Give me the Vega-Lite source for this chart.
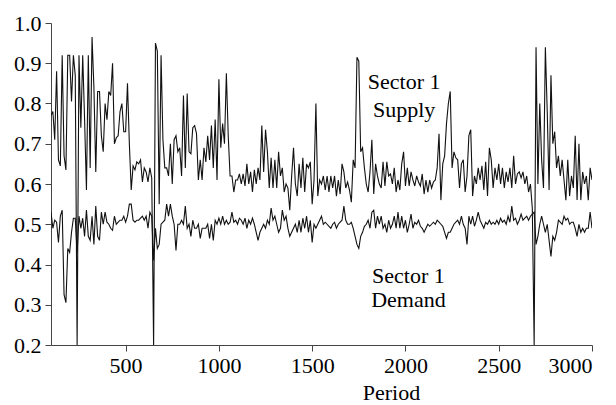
{
  "$schema": "https://vega.github.io/schema/vega-lite/v6.json",
  "width": 541,
  "height": 322,
  "autosize": {"type": "none"},
  "padding": {"left": 51, "top": 23, "right": 24, "bottom": 60},
  "background": "white",
  "config": {
    "view": {"stroke": null},
    "font": "Liberation Serif",
    "axis": {"labelFont": "Liberation Serif", "titleFont": "Liberation Serif", "labelColor": "#000", "titleColor": "#000", "domainColor": "#444", "tickColor": "#444", "grid": false, "labelFontSize": 22, "titleFontSize": 22, "titleFontWeight": "normal", "tickSize": 6, "domainWidth": 1, "tickWidth": 1}
  },
  "datasets": {
    "main": [
{"p":100,"s":0.77,"d":0.53},{"p":110,"s":0.78,"d":0.49},{"p":120,"s":0.71,"d":0.51},{"p":130,"s":0.88,"d":0.505},{"p":140,"s":0.66,"d":0.455},{"p":150,"s":0.645,"d":0.52},{"p":160,"s":0.92,"d":0.535},{"p":170,"s":0.67,"d":0.325},{"p":180,"s":0.635,"d":0.305},{"p":190,"s":0.92,"d":0.44},
{"p":200,"s":0.92,"d":0.43},{"p":210,"s":0.805,"d":0.48},{"p":220,"s":0.92,"d":0.515},{"p":230,"s":0.87,"d":0.515},{"p":240,"s":0.2,"d":0.43},{"p":250,"s":0.92,"d":0.52},{"p":260,"s":0.74,"d":0.49},{"p":270,"s":0.92,"d":0.515},{"p":280,"s":0.76,"d":0.47},{"p":290,"s":0.585,"d":0.535},
{"p":300,"s":0.92,"d":0.47},{"p":310,"s":0.64,"d":0.46},{"p":320,"s":0.965,"d":0.52},{"p":330,"s":0.84,"d":0.45},{"p":340,"s":0.63,"d":0.545},{"p":350,"s":0.83,"d":0.47},{"p":360,"s":0.83,"d":0.46},{"p":370,"s":0.72,"d":0.53},{"p":380,"s":0.68,"d":0.5},{"p":390,"s":0.8,"d":0.53},
{"p":400,"s":0.76,"d":0.505},{"p":410,"s":0.83,"d":0.5},{"p":420,"s":0.82,"d":0.49},{"p":430,"s":0.9,"d":0.485},{"p":440,"s":0.7,"d":0.52},{"p":450,"s":0.715,"d":0.5},{"p":460,"s":0.72,"d":0.505},{"p":470,"s":0.78,"d":0.51},{"p":480,"s":0.8,"d":0.51},{"p":490,"s":0.73,"d":0.52},
{"p":500,"s":0.73,"d":0.505},{"p":510,"s":0.85,"d":0.52},{"p":520,"s":0.7,"d":0.55},{"p":530,"s":0.585,"d":0.55},{"p":540,"s":0.645,"d":0.51},{"p":550,"s":0.635,"d":0.505},{"p":560,"s":0.655,"d":0.51},{"p":570,"s":0.65,"d":0.51},{"p":580,"s":0.66,"d":0.515},{"p":590,"s":0.605,"d":0.52},
{"p":600,"s":0.64,"d":0.51},{"p":610,"s":0.63,"d":0.52},{"p":620,"s":0.605,"d":0.49},{"p":630,"s":0.64,"d":0.53},{"p":640,"s":0.615,"d":0.52},{"p":650,"s":0.2,"d":0.41},{"p":660,"s":0.95,"d":0.49},{"p":670,"s":0.93,"d":0.44},{"p":680,"s":0.55,"d":0.45},{"p":690,"s":0.92,"d":0.5},
{"p":700,"s":0.71,"d":0.505},{"p":710,"s":0.64,"d":0.51},{"p":720,"s":0.64,"d":0.55},{"p":730,"s":0.62,"d":0.52},{"p":740,"s":0.7,"d":0.55},{"p":750,"s":0.6,"d":0.52},{"p":760,"s":0.71,"d":0.5},{"p":770,"s":0.72,"d":0.435},{"p":780,"s":0.68,"d":0.5},{"p":790,"s":0.69,"d":0.5},
{"p":800,"s":0.62,"d":0.51},{"p":810,"s":0.82,"d":0.5},{"p":820,"s":0.64,"d":0.545},{"p":830,"s":0.825,"d":0.49},{"p":840,"s":0.68,"d":0.5},{"p":850,"s":0.675,"d":0.47},{"p":860,"s":0.74,"d":0.51},{"p":870,"s":0.745,"d":0.49},{"p":880,"s":0.725,"d":0.49},{"p":890,"s":0.61,"d":0.5},
{"p":900,"s":0.66,"d":0.465},{"p":910,"s":0.61,"d":0.49},{"p":920,"s":0.69,"d":0.49},{"p":930,"s":0.655,"d":0.49},{"p":940,"s":0.72,"d":0.5},{"p":950,"s":0.66,"d":0.465},{"p":960,"s":0.745,"d":0.5},{"p":970,"s":0.64,"d":0.46},{"p":980,"s":0.76,"d":0.51},{"p":990,"s":0.61,"d":0.5},
{"p":1000,"s":0.86,"d":0.515},{"p":1010,"s":0.69,"d":0.5},{"p":1020,"s":0.75,"d":0.52},{"p":1030,"s":0.7,"d":0.5},{"p":1040,"s":0.875,"d":0.51},{"p":1050,"s":0.72,"d":0.5},{"p":1060,"s":0.62,"d":0.505},{"p":1070,"s":0.62,"d":0.53},{"p":1080,"s":0.58,"d":0.505},{"p":1090,"s":0.61,"d":0.51},
{"p":1100,"s":0.61,"d":0.5},{"p":1110,"s":0.625,"d":0.515},{"p":1120,"s":0.6,"d":0.51},{"p":1130,"s":0.625,"d":0.5},{"p":1140,"s":0.595,"d":0.515},{"p":1150,"s":0.65,"d":0.49},{"p":1160,"s":0.6,"d":0.51},{"p":1170,"s":0.63,"d":0.5},{"p":1180,"s":0.58,"d":0.515},{"p":1190,"s":0.635,"d":0.5},
{"p":1200,"s":0.6,"d":0.48},{"p":1210,"s":0.64,"d":0.46},{"p":1220,"s":0.61,"d":0.48},{"p":1230,"s":0.745,"d":0.49},{"p":1240,"s":0.63,"d":0.5},{"p":1250,"s":0.735,"d":0.49},{"p":1260,"s":0.68,"d":0.51},{"p":1270,"s":0.59,"d":0.5},{"p":1280,"s":0.665,"d":0.54},{"p":1290,"s":0.59,"d":0.51},
{"p":1300,"s":0.66,"d":0.52},{"p":1310,"s":0.59,"d":0.5},{"p":1320,"s":0.68,"d":0.48},{"p":1330,"s":0.62,"d":0.49},{"p":1340,"s":0.64,"d":0.535},{"p":1350,"s":0.58,"d":0.51},{"p":1360,"s":0.6,"d":0.52},{"p":1370,"s":0.59,"d":0.49},{"p":1380,"s":0.535,"d":0.47},{"p":1390,"s":0.62,"d":0.48},
{"p":1400,"s":0.69,"d":0.49},{"p":1410,"s":0.6,"d":0.5},{"p":1420,"s":0.57,"d":0.48},{"p":1430,"s":0.65,"d":0.51},{"p":1440,"s":0.59,"d":0.48},{"p":1450,"s":0.665,"d":0.515},{"p":1460,"s":0.58,"d":0.49},{"p":1470,"s":0.65,"d":0.52},{"p":1480,"s":0.64,"d":0.48},{"p":1490,"s":0.655,"d":0.51},
{"p":1500,"s":0.55,"d":0.455},{"p":1510,"s":0.61,"d":0.5},{"p":1520,"s":0.8,"d":0.49},{"p":1530,"s":0.57,"d":0.5},{"p":1540,"s":0.61,"d":0.51},{"p":1550,"s":0.6,"d":0.52},{"p":1560,"s":0.62,"d":0.5},{"p":1570,"s":0.585,"d":0.505},{"p":1580,"s":0.62,"d":0.5},{"p":1590,"s":0.58,"d":0.495},
{"p":1600,"s":0.62,"d":0.49},{"p":1610,"s":0.59,"d":0.5},{"p":1620,"s":0.62,"d":0.505},{"p":1630,"s":0.57,"d":0.49},{"p":1640,"s":0.61,"d":0.5},{"p":1650,"s":0.575,"d":0.505},{"p":1660,"s":0.65,"d":0.51},{"p":1670,"s":0.63,"d":0.545},{"p":1680,"s":0.59,"d":0.51},{"p":1690,"s":0.605,"d":0.5},
{"p":1700,"s":0.585,"d":0.5},{"p":1710,"s":0.555,"d":0.505},{"p":1720,"s":0.66,"d":0.49},{"p":1730,"s":0.64,"d":0.47},{"p":1740,"s":0.915,"d":0.45},{"p":1750,"s":0.905,"d":0.44},{"p":1760,"s":0.68,"d":0.47},{"p":1770,"s":0.69,"d":0.48},{"p":1780,"s":0.64,"d":0.495},{"p":1790,"s":0.6,"d":0.5},
{"p":1800,"s":0.58,"d":0.51},{"p":1810,"s":0.63,"d":0.49},{"p":1820,"s":0.71,"d":0.53},{"p":1830,"s":0.575,"d":0.535},{"p":1840,"s":0.65,"d":0.49},{"p":1850,"s":0.62,"d":0.52},{"p":1860,"s":0.6,"d":0.5},{"p":1870,"s":0.59,"d":0.52},{"p":1880,"s":0.655,"d":0.49},{"p":1890,"s":0.595,"d":0.5},
{"p":1900,"s":0.655,"d":0.48},{"p":1910,"s":0.62,"d":0.51},{"p":1920,"s":0.625,"d":0.49},{"p":1930,"s":0.6,"d":0.5},{"p":1940,"s":0.64,"d":0.52},{"p":1950,"s":0.58,"d":0.49},{"p":1960,"s":0.61,"d":0.53},{"p":1970,"s":0.585,"d":0.49},{"p":1980,"s":0.65,"d":0.52},{"p":1990,"s":0.68,"d":0.49},
{"p":2000,"s":0.595,"d":0.51},{"p":2010,"s":0.64,"d":0.48},{"p":2020,"s":0.595,"d":0.5},{"p":2030,"s":0.63,"d":0.525},{"p":2040,"s":0.61,"d":0.49},{"p":2050,"s":0.595,"d":0.505},{"p":2060,"s":0.62,"d":0.5},{"p":2070,"s":0.605,"d":0.51},{"p":2080,"s":0.595,"d":0.495},{"p":2090,"s":0.625,"d":0.49},
{"p":2100,"s":0.575,"d":0.48},{"p":2110,"s":0.61,"d":0.49},{"p":2120,"s":0.58,"d":0.5},{"p":2130,"s":0.61,"d":0.495},{"p":2140,"s":0.59,"d":0.5},{"p":2150,"s":0.605,"d":0.505},{"p":2160,"s":0.61,"d":0.5},{"p":2170,"s":0.64,"d":0.51},{"p":2180,"s":0.725,"d":0.505},{"p":2190,"s":0.56,"d":0.5},
{"p":2200,"s":0.65,"d":0.495},{"p":2210,"s":0.67,"d":0.48},{"p":2220,"s":0.75,"d":0.465},{"p":2230,"s":0.8,"d":0.48},{"p":2240,"s":0.83,"d":0.48},{"p":2250,"s":0.64,"d":0.49},{"p":2260,"s":0.68,"d":0.5},{"p":2270,"s":0.665,"d":0.505},{"p":2280,"s":0.66,"d":0.51},{"p":2290,"s":0.59,"d":0.5},
{"p":2300,"s":0.65,"d":0.52},{"p":2310,"s":0.66,"d":0.5},{"p":2320,"s":0.58,"d":0.49},{"p":2330,"s":0.62,"d":0.45},{"p":2340,"s":0.72,"d":0.52},{"p":2350,"s":0.735,"d":0.5},{"p":2360,"s":0.57,"d":0.52},{"p":2370,"s":0.62,"d":0.495},{"p":2380,"s":0.6,"d":0.51},{"p":2390,"s":0.64,"d":0.53},
{"p":2400,"s":0.61,"d":0.51},{"p":2410,"s":0.645,"d":0.5},{"p":2420,"s":0.585,"d":0.49},{"p":2430,"s":0.655,"d":0.505},{"p":2440,"s":0.57,"d":0.5},{"p":2450,"s":0.69,"d":0.51},{"p":2460,"s":0.66,"d":0.5},{"p":2470,"s":0.59,"d":0.505},{"p":2480,"s":0.64,"d":0.5},{"p":2490,"s":0.61,"d":0.51},
{"p":2500,"s":0.65,"d":0.5},{"p":2510,"s":0.6,"d":0.515},{"p":2520,"s":0.64,"d":0.505},{"p":2530,"s":0.59,"d":0.51},{"p":2540,"s":0.63,"d":0.5},{"p":2550,"s":0.605,"d":0.52},{"p":2560,"s":0.64,"d":0.505},{"p":2570,"s":0.59,"d":0.545},{"p":2580,"s":0.67,"d":0.51},{"p":2590,"s":0.6,"d":0.515},
{"p":2600,"s":0.625,"d":0.5},{"p":2610,"s":0.63,"d":0.51},{"p":2620,"s":0.615,"d":0.525},{"p":2630,"s":0.63,"d":0.51},{"p":2640,"s":0.6,"d":0.515},{"p":2650,"s":0.62,"d":0.52},{"p":2660,"s":0.58,"d":0.51},{"p":2670,"s":0.6,"d":0.52},{"p":2680,"s":0.54,"d":0.525},{"p":2690,"s":0.2,"d":0.53},
{"p":2700,"s":0.94,"d":0.45},{"p":2710,"s":0.6,"d":0.47},{"p":2720,"s":0.8,"d":0.5},{"p":2730,"s":0.66,"d":0.52},{"p":2740,"s":0.59,"d":0.5},{"p":2750,"s":0.94,"d":0.48},{"p":2760,"s":0.78,"d":0.5},{"p":2770,"s":0.585,"d":0.46},{"p":2780,"s":0.87,"d":0.42},{"p":2790,"s":0.7,"d":0.47},
{"p":2800,"s":0.73,"d":0.46},{"p":2810,"s":0.64,"d":0.48},{"p":2820,"s":0.67,"d":0.51},{"p":2830,"s":0.62,"d":0.505},{"p":2840,"s":0.66,"d":0.5},{"p":2850,"s":0.61,"d":0.52},{"p":2860,"s":0.56,"d":0.51},{"p":2870,"s":0.66,"d":0.515},{"p":2880,"s":0.57,"d":0.5},{"p":2890,"s":0.62,"d":0.505},
{"p":2900,"s":0.59,"d":0.505},{"p":2910,"s":0.72,"d":0.49},{"p":2920,"s":0.56,"d":0.47},{"p":2930,"s":0.7,"d":0.5},{"p":2940,"s":0.56,"d":0.48},{"p":2950,"s":0.63,"d":0.49},{"p":2960,"s":0.6,"d":0.48},{"p":2970,"s":0.62,"d":0.49},{"p":2980,"s":0.56,"d":0.49},{"p":2990,"s":0.64,"d":0.53},
{"p":3000,"s":0.61,"d":0.49}
    ],
    "notes": [
      {"p": 1993, "v": 0.853, "label": "Sector 1"},
      {"p": 1993, "v": 0.783, "label": "Supply"},
      {"p": 2016, "v": 0.371, "label": "Sector 1"},
      {"p": 2016, "v": 0.311, "label": "Demand"}
    ]
  },
  "layer": [
    {
      "data": {"name": "main"},
      "mark": {"type": "line", "color": "#111", "strokeWidth": 1.1, "clip": true},
      "encoding": {
        "x": {"field": "p", "type": "quantitative", "scale": {"domain": [100, 3000], "nice": false, "zero": false},
              "axis": {"values": [500, 1000, 1500, 2000, 2500, 3000], "format": "d", "title": "Period", "labelPadding": 4, "titleX": 340, "titleY": 37, "titleAlign": "center", "titleBaseline": "top"}},
        "y": {"field": "s", "type": "quantitative", "scale": {"domain": [0.2, 1.0], "nice": false, "zero": false},
              "axis": {"values": [0.2, 0.3, 0.4, 0.5, 0.6, 0.7, 0.8, 0.9, 1.0], "format": ".1f", "title": null, "labelPadding": 4}}
      }
    },
    {
      "data": {"name": "main"},
      "mark": {"type": "line", "color": "#111", "strokeWidth": 1.1, "clip": true},
      "encoding": {
        "x": {"field": "p", "type": "quantitative"},
        "y": {"field": "d", "type": "quantitative"}
      }
    },
    {
      "data": {"name": "notes"},
      "mark": {"type": "text", "font": "Liberation Serif", "fontSize": 22, "color": "#000", "align": "center", "baseline": "middle"},
      "encoding": {
        "x": {"field": "p", "type": "quantitative"},
        "y": {"field": "v", "type": "quantitative"},
        "text": {"field": "label"}
      }
    }
  ]
}
